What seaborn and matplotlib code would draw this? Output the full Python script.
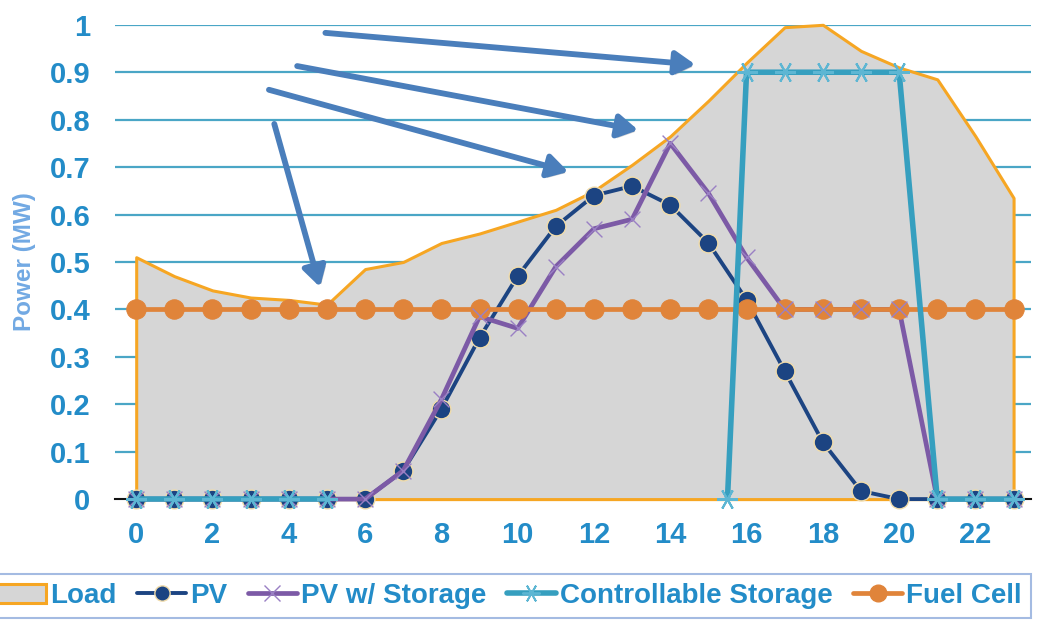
import numpy as np
import pandas as pd
import matplotlib
matplotlib.use("Agg")
import matplotlib.pyplot as plt
import matplotlib.patheffects as pe
from matplotlib.lines import Line2D
from matplotlib.patches import Patch
import seaborn as sns

# Hourly power profile (MW)
hours = list(range(24))
load = [0.51, 0.47, 0.44, 0.425, 0.42, 0.41, 0.485, 0.50, 0.54, 0.56, 0.585, 0.61,
        0.65, 0.705, 0.765, 0.84, 0.92, 0.995, 1.0, 0.945, 0.91, 0.885, 0.765, 0.635]
pv = [0, 0, 0, 0, 0, 0, 0, 0.06, 0.19, 0.34, 0.47, 0.575,
      0.64, 0.66, 0.62, 0.54, 0.42, 0.27, 0.12, 0.017, 0, 0, 0, 0]
pv_storage = [0, 0, 0, 0, 0, 0, 0, 0.06, 0.21, 0.385, 0.36, 0.49,
              0.57, 0.59, 0.75, 0.645, 0.51, 0.40, 0.40, 0.40, 0.40, 0, 0, 0]
storage_hours = [0, 1, 2, 3, 4, 5, 15.5, 16, 17, 18, 19, 20, 21, 22, 23]
storage = [0, 0, 0, 0, 0, 0, 0, 0.9, 0.9, 0.9, 0.9, 0.9, 0, 0, 0]
storage_segment = [0, 0, 0, 0, 0, 0, 1, 1, 1, 1, 1, 1, 1, 1, 1]
fuel_cell = [0.4] * 24

x_ticks = list(range(0, 23, 2))
y_ticks = [0, 0.1, 0.2, 0.3, 0.4, 0.5, 0.6, 0.7, 0.8, 0.9, 1]
y_tick_labels = ["0", "0.1", "0.2", "0.3", "0.4", "0.5", "0.6", "0.7", "0.8", "0.9", "1"]

sns.set_theme(style="white")
plt.rcParams["font.family"] = ["Liberation Sans", "DejaVu Sans"]

TEXT_BLUE = "#238cc8"
GRID = "#4aa6c6"
LOAD_EDGE = "#f6a623"
LOAD_FILL = "#d6d6d6"
PV_NAVY = "#1c4482"
PURPLE = "#7c5aa6"
TEAL = "#369fbf"
ORANGE = "#e0843a"
STAR = (6, 2, 90)  # six-armed asterisk with a vertical arm

fig = plt.figure(figsize=(10.38, 6.2), dpi=100)
ax = fig.add_axes([0.111, 0.195, 0.882, 0.765])

# Gridlines beneath everything
for yv in y_ticks[1:]:
    ax.axhline(yv, color=GRID, lw=1.6, zorder=0)

# Load as a filled area
ax.fill_between(hours, load, 0, facecolor=LOAD_FILL, edgecolor=LOAD_EDGE,
                linewidth=2.2, zorder=1, clip_on=False)

df_pv = pd.DataFrame({"hour": hours, "pv": pv, "pvs": pv_storage, "fc": fuel_cell})
df_st = pd.DataFrame({"hour": storage_hours, "st": storage, "seg": storage_segment})

sns.lineplot(data=df_pv, x="hour", y="pv", ax=ax, color=PV_NAVY, lw=2.8,
             marker="o", markersize=13.5, markerfacecolor=PV_NAVY,
             markeredgecolor="#f1dcaa", markeredgewidth=1.0, zorder=3, clip_on=False)
sns.lineplot(data=df_pv, x="hour", y="pvs", ax=ax, color=PURPLE, lw=3.4,
             marker=None, zorder=4, clip_on=False)
sns.lineplot(data=df_pv, x="hour", y="fc", ax=ax, color=ORANGE, lw=3.4,
             marker="o", markersize=14, markerfacecolor=ORANGE,
             markeredgecolor=ORANGE, zorder=5, clip_on=False)
# Cross markers of the PV w/ Storage series sit above the fuel-cell line
sns.scatterplot(data=df_pv, x="hour", y="pvs", ax=ax, marker="x", s=130,
                color="#9a80c4", linewidth=1.0, zorder=5.5, clip_on=False)
sns.lineplot(data=df_st, x="hour", y="st", units="seg", estimator=None, ax=ax,
             color=TEAL, lw=4, marker=STAR, markersize=15,
             markeredgecolor="#5db6d3", markeredgewidth=1.5, zorder=6, clip_on=False)

# Callout arrows
arrows = [((4.96, 0.983), (14.66, 0.916)),
          ((4.22, 0.913), (13.16, 0.778)),
          ((3.48, 0.863), (11.33, 0.690)),
          ((3.62, 0.791), (4.82, 0.447))]
for start, end in arrows:
    ann = ax.annotate("", xy=end, xytext=start,
                      arrowprops=dict(arrowstyle="-|>,head_length=0.6,head_width=0.35",
                                      mutation_scale=20, lw=4.2, color="#4a7ebb",
                                      shrinkA=0, shrinkB=0), zorder=8)
    ann.arrow_patch.set_path_effects([pe.withSimplePatchShadow(offset=(2, -2),
                                                               shadow_rgbFace="#777777",
                                                               alpha=0.35)])

ax.set_xlim(-0.55, 23.45)
ax.set_ylim(0, 1)
ax.set_xticks(x_ticks)
ax.set_yticks(y_ticks)
ax.set_yticklabels(y_tick_labels)
ax.tick_params(axis="both", length=0, labelsize=21, labelcolor=TEXT_BLUE)
ax.tick_params(axis="y", pad=18)
ax.tick_params(axis="x", pad=16)
for lab in ax.get_xticklabels() + ax.get_yticklabels():
    lab.set_fontweight("bold")
ax.set_xlabel("")
ax.set_ylabel("Power (MW)", fontsize=17.5, fontweight="bold", color="#72a9e3", labelpad=10)

for side in ["top", "right", "left"]:
    ax.spines[side].set_visible(False)
ax.spines["bottom"].set_color("#111111")
ax.spines["bottom"].set_linewidth(1.5)
ax.spines["bottom"].set_zorder(0.5)
ax.patch.set_alpha(0)

handles = [
    Patch(facecolor=LOAD_FILL, edgecolor=LOAD_EDGE, linewidth=2.2),
    Line2D([], [], color=PV_NAVY, lw=2.8, marker="o", markersize=11,
           markerfacecolor=PV_NAVY, markeredgecolor="#f1dcaa"),
    Line2D([], [], color=PURPLE, lw=3.4, marker="x", markersize=11,
           markeredgecolor="#9a80c4", markeredgewidth=1.0),
    Line2D([], [], color=TEAL, lw=4, marker=STAR, markersize=13,
           markeredgecolor="#5db6d3", markeredgewidth=1.3),
    Line2D([], [], color=ORANGE, lw=3.4, marker="o", markersize=12,
           markerfacecolor=ORANGE, markeredgecolor=ORANGE),
]
labels = ["Load", "PV", "PV w/ Storage", "Controllable Storage", "Fuel Cell"]
leg = fig.legend(handles, labels, loc="upper right", ncol=5,
                 bbox_to_anchor=(1031 / 1038, 1 - 574 / 620),
                 prop={"family": "Liberation Sans", "weight": "bold", "size": 20},
                 frameon=True, fancybox=False, handlelength=1.75, handletextpad=0.15,
                 columnspacing=0.75, borderpad=0.33, borderaxespad=0)
leg.get_frame().set_edgecolor("#8eaadb")
leg.get_frame().set_linewidth(1.5)
for t in leg.get_texts():
    t.set_color(TEXT_BLUE)

fig.savefig("out.png", dpi=100)
